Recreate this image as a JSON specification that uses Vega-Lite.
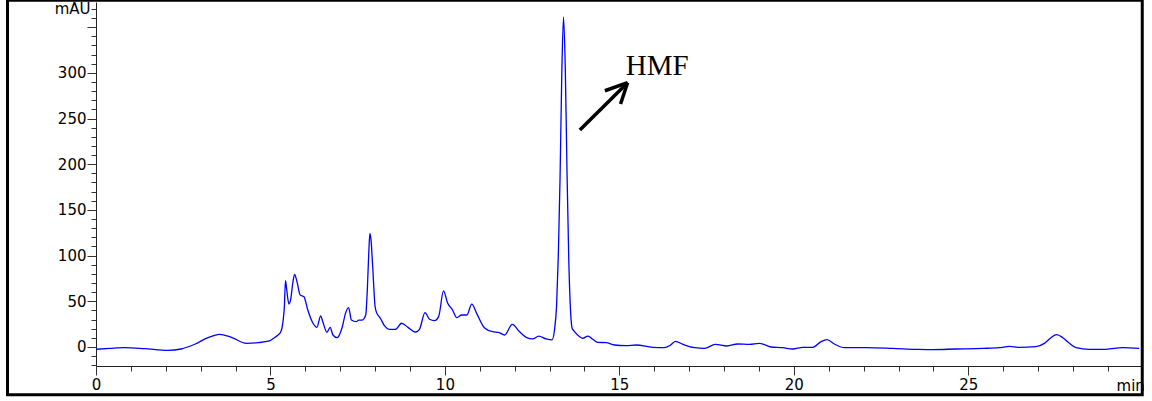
{
  "$schema": "https://vega.github.io/schema/vega-lite/v6.json",
  "autosize": {"type": "none"},
  "padding": {"left": 96, "top": 2, "right": 11, "bottom": 35},
  "width": 1045,
  "height": 364,
  "background": "white",
  "config": {"view": {"stroke": null}},
  "datasets": {
    "trace": [
      {"time": 0.00, "mAU": -2.5}, {"time": 0.40, "mAU": -1.5}, {"time": 0.82, "mAU": -0.7}, {"time": 1.39, "mAU": -1.8},
      {"time": 2.06, "mAU": -3.7}, {"time": 2.44, "mAU": -2.2}, {"time": 2.83, "mAU": 3.0}, {"time": 3.21, "mAU": 10.2},
      {"time": 3.54, "mAU": 13.9}, {"time": 3.88, "mAU": 10.6}, {"time": 4.31, "mAU": 4.0}, {"time": 4.64, "mAU": 4.7},
      {"time": 4.97, "mAU": 6.6}, {"time": 5.07, "mAU": 9.0}, {"time": 5.20, "mAU": 12.5}, {"time": 5.30, "mAU": 17},
      {"time": 5.36, "mAU": 28}, {"time": 5.40, "mAU": 45}, {"time": 5.43, "mAU": 72.5}, {"time": 5.46, "mAU": 65},
      {"time": 5.49, "mAU": 55}, {"time": 5.53, "mAU": 47}, {"time": 5.58, "mAU": 52}, {"time": 5.64, "mAU": 70},
      {"time": 5.69, "mAU": 79.5}, {"time": 5.76, "mAU": 71.5}, {"time": 5.85, "mAU": 57}, {"time": 5.96, "mAU": 55},
      {"time": 6.07, "mAU": 40.5}, {"time": 6.22, "mAU": 26}, {"time": 6.33, "mAU": 21.5}, {"time": 6.44, "mAU": 34},
      {"time": 6.50, "mAU": 27.7}, {"time": 6.62, "mAU": 16}, {"time": 6.71, "mAU": 21.5}, {"time": 6.79, "mAU": 13.1},
      {"time": 6.91, "mAU": 10.2}, {"time": 7.06, "mAU": 22.2}, {"time": 7.15, "mAU": 36.8}, {"time": 7.24, "mAU": 43},
      {"time": 7.32, "mAU": 29.5}, {"time": 7.46, "mAU": 27.7}, {"time": 7.53, "mAU": 29.5}, {"time": 7.63, "mAU": 29.5},
      {"time": 7.73, "mAU": 35}, {"time": 7.78, "mAU": 66}, {"time": 7.82, "mAU": 105}, {"time": 7.85, "mAU": 124.4},
      {"time": 7.88, "mAU": 118}, {"time": 7.93, "mAU": 88}, {"time": 8.00, "mAU": 44}, {"time": 8.05, "mAU": 36.8},
      {"time": 8.10, "mAU": 34}, {"time": 8.15, "mAU": 31.4}, {"time": 8.27, "mAU": 23}, {"time": 8.41, "mAU": 19.3},
      {"time": 8.58, "mAU": 19.3}, {"time": 8.76, "mAU": 26}, {"time": 8.94, "mAU": 21.5}, {"time": 9.16, "mAU": 16.4},
      {"time": 9.27, "mAU": 19.3}, {"time": 9.43, "mAU": 37.5}, {"time": 9.56, "mAU": 30.3}, {"time": 9.70, "mAU": 28.8},
      {"time": 9.82, "mAU": 33.2}, {"time": 9.96, "mAU": 61.3}, {"time": 10.08, "mAU": 47.8}, {"time": 10.21, "mAU": 41.2},
      {"time": 10.34, "mAU": 32.1}, {"time": 10.48, "mAU": 35}, {"time": 10.63, "mAU": 35}, {"time": 10.77, "mAU": 47},
      {"time": 10.91, "mAU": 36.8}, {"time": 11.13, "mAU": 21.1}, {"time": 11.37, "mAU": 16.7}, {"time": 11.54, "mAU": 16.0},
      {"time": 11.71, "mAU": 13.1}, {"time": 11.93, "mAU": 24.8}, {"time": 12.14, "mAU": 16.7}, {"time": 12.33, "mAU": 10.6},
      {"time": 12.52, "mAU": 8.8}, {"time": 12.69, "mAU": 12}, {"time": 12.90, "mAU": 8.8}, {"time": 13.07, "mAU": 7.7},
      {"time": 13.14, "mAU": 18.6}, {"time": 13.20, "mAU": 45}, {"time": 13.25, "mAU": 100}, {"time": 13.30, "mAU": 185},
      {"time": 13.35, "mAU": 300}, {"time": 13.40, "mAU": 361}, {"time": 13.45, "mAU": 305}, {"time": 13.50, "mAU": 190},
      {"time": 13.55, "mAU": 95}, {"time": 13.60, "mAU": 40}, {"time": 13.65, "mAU": 20}, {"time": 13.69, "mAU": 18},
      {"time": 13.86, "mAU": 11.3}, {"time": 13.95, "mAU": 9.5}, {"time": 14.10, "mAU": 12}, {"time": 14.24, "mAU": 8.4},
      {"time": 14.38, "mAU": 5.1}, {"time": 14.62, "mAU": 4.7}, {"time": 14.86, "mAU": 2.2}, {"time": 15.19, "mAU": 1.4},
      {"time": 15.48, "mAU": 2.2}, {"time": 15.96, "mAU": -0.4}, {"time": 16.29, "mAU": -0.7}, {"time": 16.44, "mAU": 1.4},
      {"time": 16.61, "mAU": 6.2}, {"time": 16.82, "mAU": 2.9}, {"time": 17.15, "mAU": -0.7}, {"time": 17.44, "mAU": -1.5},
      {"time": 17.75, "mAU": 2.9}, {"time": 18.08, "mAU": 1.1}, {"time": 18.39, "mAU": 3.3}, {"time": 18.73, "mAU": 2.9},
      {"time": 19.01, "mAU": 4}, {"time": 19.35, "mAU": 0}, {"time": 19.68, "mAU": -0.7}, {"time": 19.97, "mAU": -2.2},
      {"time": 20.26, "mAU": -0.4}, {"time": 20.54, "mAU": -0.4}, {"time": 20.78, "mAU": 5.8}, {"time": 20.95, "mAU": 8},
      {"time": 21.16, "mAU": 3.3}, {"time": 21.45, "mAU": -0.7}, {"time": 22.07, "mAU": -0.7}, {"time": 22.83, "mAU": -1.5},
      {"time": 23.50, "mAU": -2.5}, {"time": 23.98, "mAU": -2.9}, {"time": 24.65, "mAU": -2.2}, {"time": 25.41, "mAU": -1.5},
      {"time": 25.89, "mAU": -0.7}, {"time": 26.18, "mAU": 0.7}, {"time": 26.46, "mAU": -0.4}, {"time": 26.94, "mAU": 0.4},
      {"time": 27.18, "mAU": 4}, {"time": 27.37, "mAU": 10.2}, {"time": 27.53, "mAU": 13.5}, {"time": 27.71, "mAU": 10.2},
      {"time": 27.90, "mAU": 4}, {"time": 28.09, "mAU": -0.7}, {"time": 28.47, "mAU": -2.5}, {"time": 28.95, "mAU": -2.5},
      {"time": 29.42, "mAU": -0.7}, {"time": 29.90, "mAU": -1.5}
    ],
    "arrow": [
      {"x": 13.868, "y": 237.4, "x2": 15.235, "y2": 289.2},
      {"x": 14.585, "y": 280.4, "x2": 15.235, "y2": 289.2},
      {"x": 15.034, "y": 265.9, "x2": 15.235, "y2": 289.2}
    ],
    "hmf": [{"x": 15.186, "y": 297.6, "label": "HMF"}],
    "unit": [{"x": 29.25, "y": -48.0, "label": "min"}],
    "frame": [{"x": -2.536, "x2": 29.986, "y": 379.5, "y2": -52.2}]
  },
  "encoding": {
    "x": {
      "type": "quantitative",
      "scale": {"domain": [0, 29.95], "nice": false, "zero": false},
      "axis": {
        "title": null,
        "values": [0,1,2,3,4,5,6,7,8,9,10,11,12,13,14,15,16,17,18,19,20,21,22,23,24,25,26,27,28,29],
        "labelExpr": "datum.value % 5 == 0 ? datum.label : ''",
        "labelFont": "DejaVu Sans", "labelFontSize": 15, "labelColor": "black",
        "labelPadding": 2, "labelOverlap": false, "labelFlush": false,
        "tickSize": {"condition": {"test": "datum.value % 5 == 0", "value": 9}, "value": 5},
        "tickColor": "#333", "domainColor": "#222", "grid": false
      }
    },
    "y": {
      "type": "quantitative",
      "scale": {"domain": [-20.8, 377.5], "nice": false, "zero": false},
      "axis": {
        "title": null,
        "values": [-20,-10,0,10,20,30,40,50,60,70,80,90,100,110,120,130,140,150,160,170,180,190,200,210,220,230,240,250,260,270,280,290,300,310,320,330,340,350,360,370],
        "labelExpr": "datum.value == 370 ? 'mAU' : ((datum.value % 50 == 0 && datum.value >= 0 && datum.value <= 300) ? datum.label : '')",
        "labelFont": "DejaVu Sans", "labelFontSize": 15, "labelColor": "black",
        "labelPadding": 1, "labelOverlap": false, "labelFlush": false,
        "tickSize": {"condition": {"test": "datum.value % 50 == 0", "value": 9}, "value": 5},
        "tickColor": "#333", "domainColor": "#222", "grid": false
      }
    }
  },
  "layer": [
    {
      "data": {"name": "trace"},
      "mark": {"type": "line", "color": "#0000ff", "strokeWidth": 1.3, "interpolate": "monotone", "clip": true},
      "encoding": {
        "x": {"field": "time"},
        "y": {"field": "mAU"}
      }
    },
    {
      "data": {"name": "arrow"},
      "mark": {"type": "rule", "color": "black", "strokeWidth": 3.5, "strokeCap": "butt"},
      "encoding": {
        "x": {"field": "x"},
        "y": {"field": "y"},
        "x2": {"field": "x2"},
        "y2": {"field": "y2"}
      }
    },
    {
      "data": {"name": "hmf"},
      "mark": {"type": "text", "font": "Liberation Serif", "fontSize": 29, "align": "left", "baseline": "alphabetic", "color": "black"},
      "encoding": {
        "x": {"field": "x"},
        "y": {"field": "y"},
        "text": {"field": "label"}
      }
    },
    {
      "data": {"name": "unit"},
      "mark": {"type": "text", "font": "DejaVu Sans", "fontSize": 15, "align": "left", "baseline": "alphabetic", "color": "black"},
      "encoding": {
        "x": {"field": "x"},
        "y": {"field": "y"},
        "text": {"field": "label"}
      }
    },
    {
      "data": {"name": "frame"},
      "mark": {"type": "rect", "filled": false, "stroke": "black", "strokeWidth": 3},
      "encoding": {
        "x": {"field": "x"},
        "x2": {"field": "x2"},
        "y": {"field": "y"},
        "y2": {"field": "y2"}
      }
    }
  ]
}
